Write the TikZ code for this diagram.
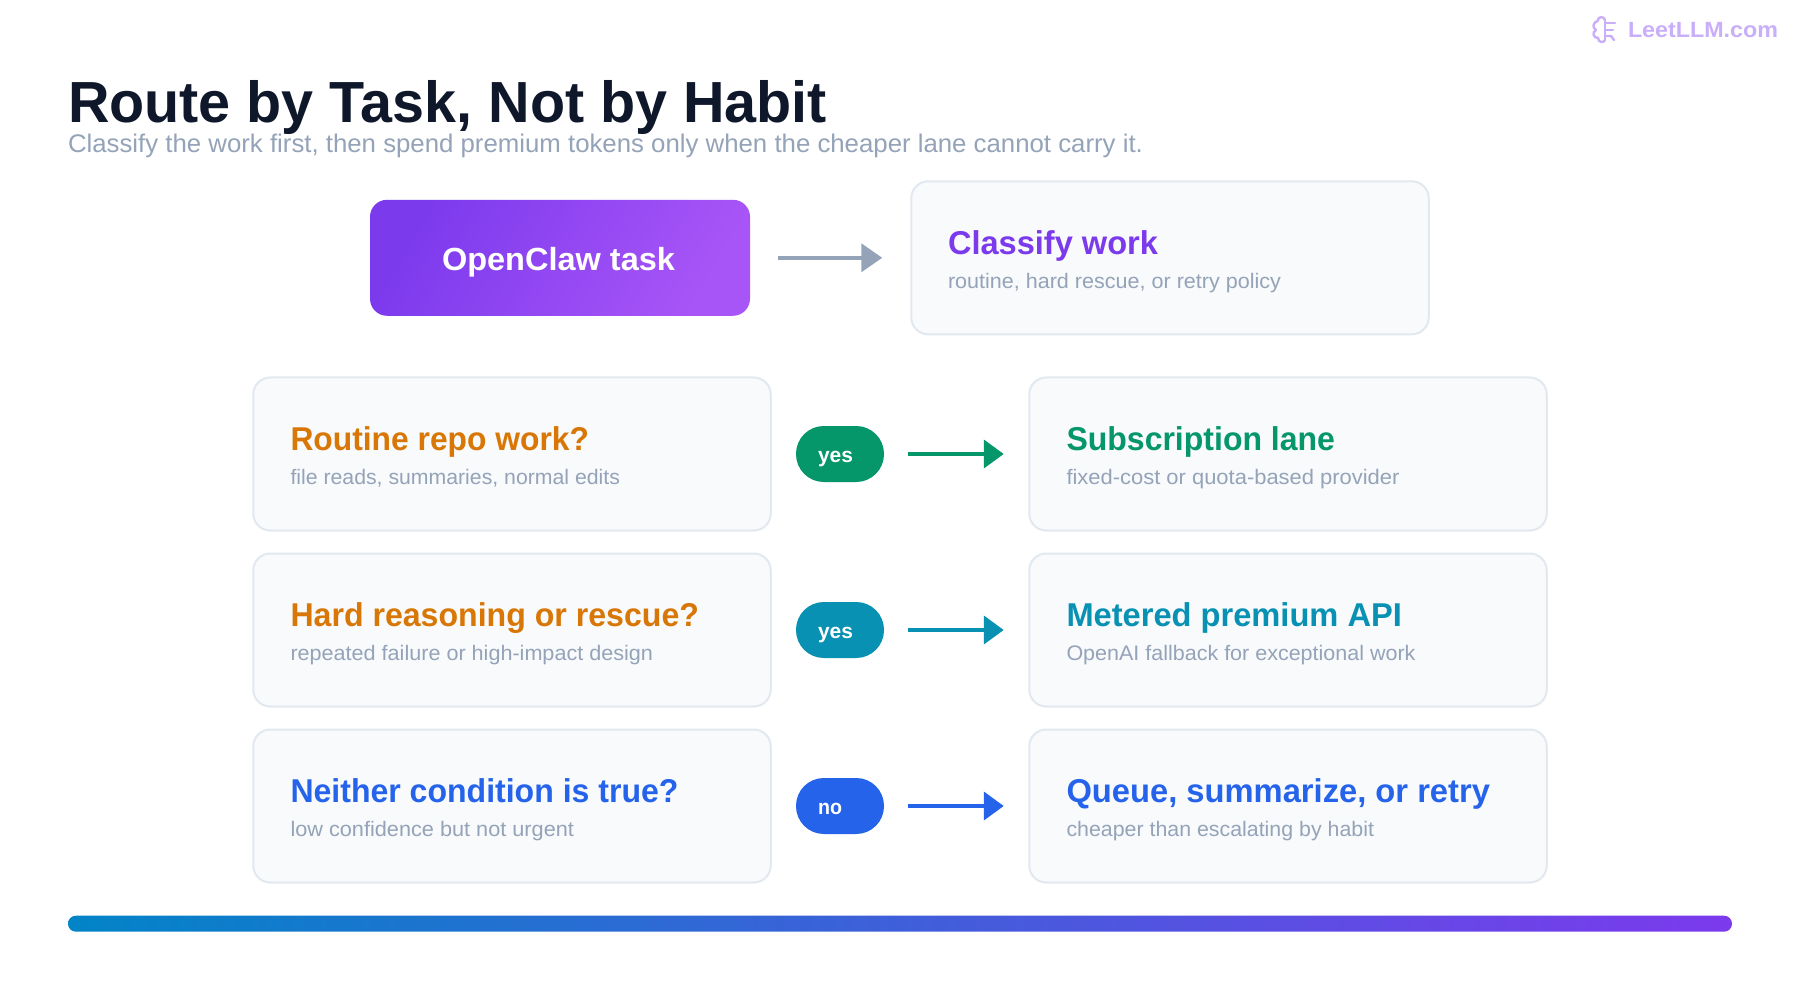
\documentclass[tikz,border=0pt]{standalone}
\usepackage{fontspec}
\usepackage{graphicx}
\setmainfont{Liberation Sans}
\usetikzlibrary{arrows.meta}
\definecolor{ink}{HTML}{0F172A}
\definecolor{muted}{HTML}{94A3B8}
\definecolor{cardfill}{HTML}{F8FAFC}
\definecolor{cardline}{HTML}{E2E8F0}
\definecolor{violet}{HTML}{7C3AED}
\definecolor{violetlight}{HTML}{A855F7}
\definecolor{amber}{HTML}{D97706}
\definecolor{green}{HTML}{059669}
\definecolor{teal}{HTML}{0891B2}
\definecolor{blue}{HTML}{2563EB}
\definecolor{sky}{HTML}{0284C7}
\definecolor{logo}{HTML}{C9AFFA}
\newsavebox\fitbox
\newcommand\fitw[2]{\sbox\fitbox{#2}\pgfmathsetmacro\fitsc{#1/\wd\fitbox}\scalebox{\fitsc}[1]{\usebox\fitbox}}
\newcommand\fs[1]{\fontsize{#1}{#1}\selectfont}
\tikzset{
  x=1pt,y=-1pt,
  txt/.style={anchor=base west,inner sep=0pt,outer sep=0pt},
  cardtitle/.style={txt,font=\fs{33}\bfseries},
  cardsub/.style={txt,font=\fs{21},text=muted},
  card/.style={draw=cardline,fill=cardfill,line width=2pt,rounded corners=17pt,minimum width=517.5pt,minimum height=153pt,inner sep=0pt,outer sep=0pt},
  pill/.style={rounded corners=27.8pt,minimum width=88pt,minimum height=56pt,inner sep=0pt,outer sep=0pt},
  pilltext/.style={txt,font=\fs{21}\bfseries,text=white},
  link/.style={line width=4pt,-{Triangle[length=20pt,width=28pt]}},
}
\begin{document}
\begin{tikzpicture}
\useasboundingbox[fill=white] (0,0) rectangle (1800,1000);
% logo
\begin{scope}[draw=logo,line width=2.4pt,line cap=round,line join=round]
\draw (1605,20) -- (1605,40);
\draw (1605,20) .. controls (1604,16) and (1598,16) .. (1597.5,21) .. controls (1593,22) and (1592,28) .. (1596,30) .. controls (1592,32) and (1593,38) .. (1598,38) .. controls (1598,43) and (1604,43) .. (1605,40);
\draw (1605,23) -- (1615,23);
\draw (1605,30) -- (1613,30);
\draw (1605,36) -- (1611,36) -- (1614,40);
\end{scope}
\node[txt,font=\fs{22}\bfseries,text=logo] (logotext) at (1628,37.5) {\fitw{150}{LeetLLM.com}};
% heading
\node[txt,font=\fs{58}\bfseries,text=ink] (title) at (68,122.7) {\fitw{759}{Route by Task, Not by Habit}};
\node[txt,font=\fs{25.5},text=muted] (subtitle) at (68,152.3) {\fitw{1075}{Classify the work first, then spend premium tokens only when the cheaper lane cannot carry it.}};
% top row
\node[left color=violet,right color=violetlight,shading angle=60,rounded corners=17pt,minimum width=380pt,minimum height=116pt,inner sep=0pt,outer sep=0pt] (task) at (560,257.8) {};
\node[txt,font=\fs{32}\bfseries,text=white] (tasktext) at (442,270.5) {\fitw{233}{OpenClaw task}};
\node[card] (classify) at (1170,257.8) {};
\node[cardtitle,text=violet] (classifyt) at (948,254.6) {\fitw{210}{Classify work}};
\node[cardsub] (classifys) at (948,288.3) {\fitw{333}{routine, hard rescue, or retry policy}};
\draw[link,muted,shorten <=28pt,shorten >=29pt,-{Triangle[length=21pt,width=28pt]}] (task.east) -- (classify.west);
% row 1
\node[card] (c1) at (512,454) {};
\node[cardtitle,text=amber] (c1t) at (290.5,450.3) {\fitw{298.5}{Routine repo work?}};
\node[cardsub] (c1s) at (290.5,484.3) {\fitw{329.5}{file reads, summaries, normal edits}};
\node[pill,fill=green] (p1) at (840,454) {};
\node[pilltext] (p1t) at (818,462.2) {\fitw{35}{yes}};
\node[card] (d1) at (1288,454) {};
\node[cardtitle,text=green] (d1t) at (1066.5,450.3) {\fitw{268.5}{Subscription lane}};
\node[cardsub] (d1s) at (1066.5,484.3) {\fitw{333}{fixed-cost or quota-based provider}};
\draw[link,green,shorten <=24pt,shorten >=25.5pt] (p1.east) -- (d1.west);
% row 2
\node[card] (c2) at (512,630) {};
\node[cardtitle,text=amber] (c2t) at (290.5,626.3) {\fitw{408.5}{Hard reasoning or rescue?}};
\node[cardsub] (c2s) at (290.5,660.3) {\fitw{362.5}{repeated failure or high-impact design}};
\node[pill,fill=teal] (p2) at (840,630) {};
\node[pilltext] (p2t) at (818,638.2) {\fitw{35}{yes}};
\node[card] (d2) at (1288,630) {};
\node[cardtitle,text=teal] (d2t) at (1066.5,626.3) {\fitw{335.5}{Metered premium API}};
\node[cardsub] (d2s) at (1066.5,660.3) {\fitw{349}{OpenAI fallback for exceptional work}};
\draw[link,teal,shorten <=24pt,shorten >=25.5pt] (p2.east) -- (d2.west);
% row 3
\node[card] (c3) at (512,806) {};
\node[cardtitle,text=blue] (c3t) at (290.5,802.3) {\fitw{388}{Neither condition is true?}};
\node[cardsub] (c3s) at (290.5,836.3) {\fitw{283.5}{low confidence but not urgent}};
\node[pill,fill=blue] (p3) at (840,806) {};
\node[pilltext] (p3t) at (818,814.2) {\fitw{24}{no}};
\node[card] (d3) at (1288,806) {};
\node[cardtitle,text=blue] (d3t) at (1066.5,802.3) {\fitw{423.5}{Queue, summarize, or retry}};
\node[cardsub] (d3s) at (1066.5,836.3) {\fitw{307.5}{cheaper than escalating by habit}};
\draw[link,blue,shorten <=24pt,shorten >=25.5pt] (p3.east) -- (d3.west);
% bottom bar
\node[left color=sky,right color=violet,rounded corners=7.9pt,minimum width=1664pt,minimum height=16pt,inner sep=0pt,outer sep=0pt] (bar) at (900,923.7) {};
\end{tikzpicture}
\end{document}
